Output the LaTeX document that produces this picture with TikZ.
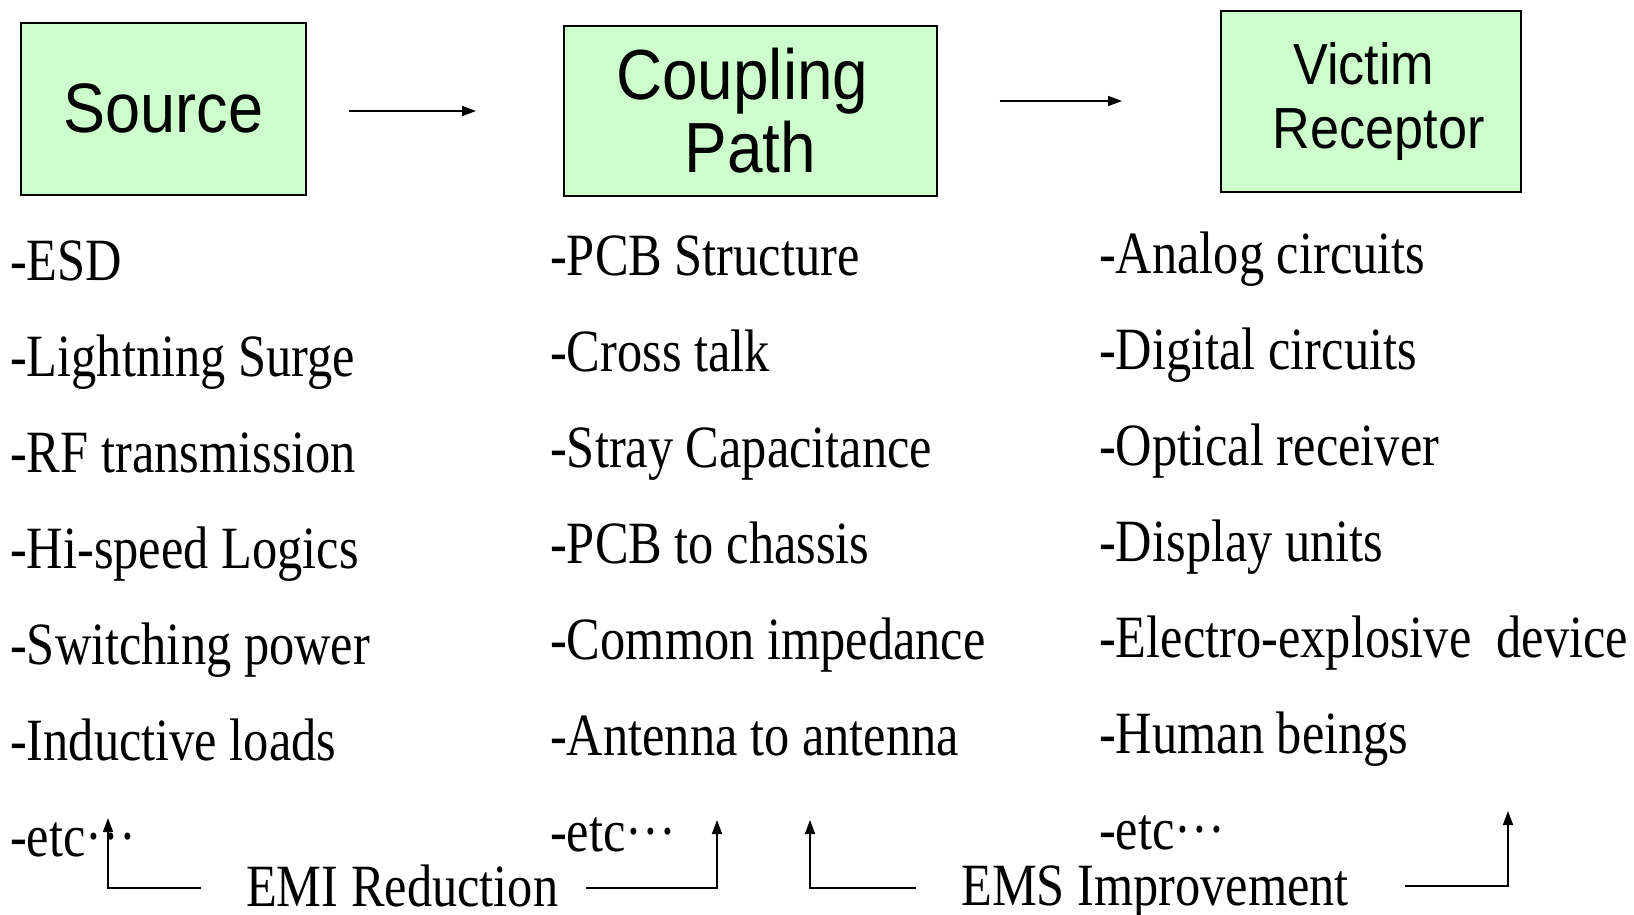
\documentclass[tikz,border=0pt]{standalone}
\usepackage{fontspec}
\setmainfont[FakeStretch=0.84]{Liberation Serif}
\newfontfamily\boxfont[FakeStretch=0.9]{Liberation Sans}
\usetikzlibrary{arrows.meta}
\definecolor{boxgreen}{HTML}{CCFFCC}
\tikzset{
  blk/.style={draw=black, line width=1.6pt, fill=boxgreen, inner sep=0pt, anchor=north west, align=center},
  item/.style={anchor=base west, inner sep=0pt, font=\fontsize{60}{72}\selectfont},
  lbl/.style={anchor=base west, inner sep=0pt, font=\fontsize{60}{72}\selectfont},
  arr/.style={line width=1.6pt, -{Triangle[length=14pt,width=10pt]}},
  ln/.style={line width=1.6pt}
}
\begin{document}
\begin{tikzpicture}[x=1pt,y=-1pt]
\useasboundingbox (0,0) rectangle (1634,914);
% boxes
\node[blk, minimum width=285pt, minimum height=172pt, font=\boxfont\fontsize{70}{74}\selectfont] (src) at (20,22) {Source};
\node[blk, minimum width=373pt, minimum height=170pt, font=\boxfont\fontsize{71}{76}\selectfont] (cp) at (563,25) {Coupling\hspace*{16pt}\\[-3pt] Path};
\node[blk, minimum width=300pt, minimum height=181pt, font=\boxfont\fontsize{58}{64}\selectfont] (vr) at (1220,10) {Victim\hspace*{14pt}\\ \hspace*{16pt}Receptor};
% top arrows
\draw[arr, shorten <=42pt, shorten >=87pt] (src.east |- 0,111) -- (cp.west |- 0,111);
\draw[arr, shorten <=62pt, shorten >=98pt] (cp.east |- 0,101) -- (vr.west |- 0,101);
% column 1
\node[item] (a1) at (10,280) {-ESD};
\node[item] (a2) at (10,376) {-Lightning Surge};
\node[item] (a3) at (10,472) {-RF transmission};
\node[item] (a4) at (10,568) {-Hi-speed Logics};
\node[item] (a5) at (10,664) {-Switching power};
\node[item] (a6) at (10,760) {-Inductive loads};
\node[item] (a7) at (10,856) {-etc···};
% column 2
\node[item] (b1) at (550,275) {-PCB Structure};
\node[item] (b2) at (550,371) {-Cross talk};
\node[item] (b3) at (550,467) {-Stray Capacitance};
\node[item] (b4) at (550,563) {-PCB to chassis};
\node[item] (b5) at (550,659) {-Common impedance};
\node[item] (b6) at (550,755) {-Antenna to antenna};
\node[item] (b7) at (550,851) {-etc···};
% column 3
\node[item] (c1) at (1099,273) {-Analog circuits};
\node[item] (c2) at (1099,369) {-Digital circuits};
\node[item] (c3) at (1099,465) {-Optical receiver};
\node[item] (c4) at (1099,561) {-Display units};
\node[item] (c5) at (1099,657) {-Electro-explosive\ \ device};
\node[item] (c6) at (1099,753) {-Human beings};
\node[item] (c7) at (1099,849) {-etc···};
% bottom labels
\node[lbl] (emi) at (246,906) {EMI Reduction};
\node[lbl] (ems) at (961,905) {EMS Improvement};
% bottom arrows
\coordinate (e1s) at (201,888); \coordinate (e1t) at (108,818);
\coordinate (e2s) at (586,888); \coordinate (e2t) at (717,820);
\coordinate (s1s) at (916,888); \coordinate (s1t) at (810,820);
\coordinate (s2s) at (1405,886); \coordinate (s2t) at (1508,811);
\draw[arr] (e1s) -| (e1t);
\draw[arr] (e2s) -| (e2t);
\draw[arr] (s1s) -| (s1t);
\draw[arr] (s2s) -| (s2t);
\end{tikzpicture}
\end{document}
